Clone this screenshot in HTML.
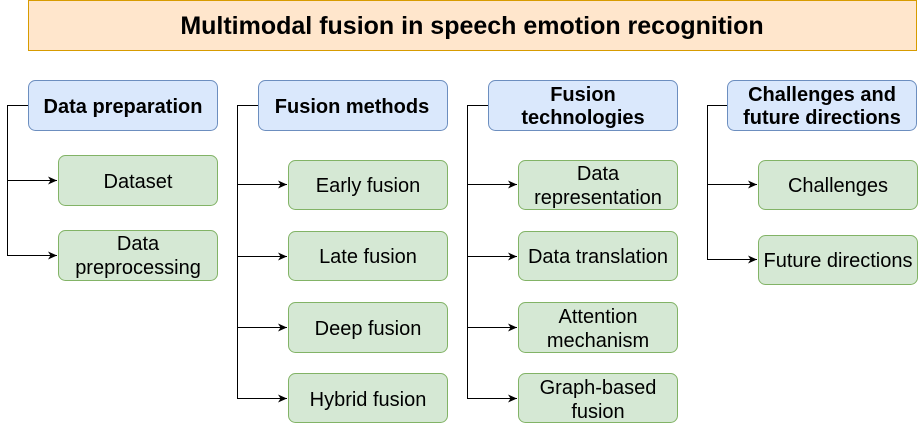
<!DOCTYPE html>
<html><head><meta charset="utf-8"><style>
html,body{margin:0;padding:0;background:#fff;width:918px;height:424px;overflow:hidden}
text{font-family:"Liberation Sans",Arial,sans-serif;fill:#000}
.h{font-weight:bold;font-size:20px}
.c{font-size:20px}
</style></head><body>
<svg width="918" height="424" viewBox="0 0 918 424" xmlns="http://www.w3.org/2000/svg">
<defs><marker id="a" markerWidth="10" markerHeight="10" refX="9" refY="5" orient="auto" markerUnits="userSpaceOnUse"><path d="M0,1 L9,5 L0,9 L2.5,5 Z" fill="#000"/></marker></defs>
<rect x="28.5" y="0.5" width="888" height="50" fill="#ffe6cc" stroke="#d79b00"/>
<text x="472" y="34" text-anchor="middle" font-weight="bold" font-size="25">Multimodal fusion in speech emotion recognition</text>
<g fill="#dae8fc" stroke="#6c8ebf">
<rect x="28.5" y="80.5" width="189" height="50" rx="7"/>
<rect x="258.5" y="80.5" width="189" height="50" rx="7"/>
<rect x="488.5" y="80.5" width="189" height="50" rx="7"/>
<rect x="727.5" y="80.5" width="189" height="50" rx="7"/>
</g>
<g fill="#d5e8d4" stroke="#82b366">
<rect x="58.5" y="155.5" width="159" height="50" rx="7"/>
<rect x="58.5" y="230.5" width="159" height="50" rx="7"/>
<rect x="288.5" y="160.5" width="159" height="49" rx="7"/>
<rect x="288.5" y="231.5" width="159" height="49" rx="7"/>
<rect x="288.5" y="302.5" width="159" height="50" rx="7"/>
<rect x="288.5" y="373.5" width="159" height="49" rx="7"/>
<rect x="518.5" y="160.5" width="159" height="49" rx="7"/>
<rect x="518.5" y="231.5" width="159" height="49" rx="7"/>
<rect x="518.5" y="302.5" width="159" height="50" rx="7"/>
<rect x="518.5" y="373.5" width="159" height="49" rx="7"/>
<rect x="758.5" y="160.5" width="159" height="49" rx="7"/>
<rect x="758.5" y="235.5" width="159" height="49" rx="7"/>
</g>
<g stroke="#000" fill="none" stroke-width="1">
<path d="M28,105.5 H7.5 V255.5 H57" marker-end="url(#a)"/>
<path d="M7.5,180.5 H57" marker-end="url(#a)"/>
<path d="M258,105.5 H237.5 V398.5 H287" marker-end="url(#a)"/>
<path d="M237.5,184.5 H287" marker-end="url(#a)"/>
<path d="M237.5,256.5 H287" marker-end="url(#a)"/>
<path d="M237.5,327.5 H287" marker-end="url(#a)"/>
<path d="M488,105.5 H467.5 V398.5 H517" marker-end="url(#a)"/>
<path d="M467.5,184.5 H517" marker-end="url(#a)"/>
<path d="M467.5,256.5 H517" marker-end="url(#a)"/>
<path d="M467.5,327.5 H517" marker-end="url(#a)"/>
<path d="M727,105.5 H707.5 V259.5 H757" marker-end="url(#a)"/>
<path d="M707.5,184.5 H757" marker-end="url(#a)"/>
</g>
<g text-anchor="middle">
<text class="h" x="123" y="113">Data preparation</text>
<text class="h" x="352" y="113">Fusion methods</text>
<text class="h" x="583" y="101">Fusion</text>
<text class="h" x="583" y="124">technologies</text>
<text class="h" x="822" y="101">Challenges and</text>
<text class="h" x="822" y="124">future directions</text>
<text class="c" x="138" y="188">Dataset</text>
<text class="c" x="138" y="250">Data</text>
<text class="c" x="138" y="274">preprocessing</text>
<text class="c" x="368" y="192">Early fusion</text>
<text class="c" x="368" y="263">Late fusion</text>
<text class="c" x="368" y="335">Deep fusion</text>
<text class="c" x="368" y="406">Hybrid fusion</text>
<text class="c" x="598" y="180">Data</text>
<text class="c" x="598" y="204">representation</text>
<text class="c" x="598" y="263">Data translation</text>
<text class="c" x="598" y="323">Attention</text>
<text class="c" x="598" y="347">mechanism</text>
<text class="c" x="598" y="394">Graph-based</text>
<text class="c" x="598" y="418">fusion</text>
<text class="c" x="838" y="192">Challenges</text>
<text class="c" x="838" y="267">Future directions</text>
</g>
</svg>
</body></html>
